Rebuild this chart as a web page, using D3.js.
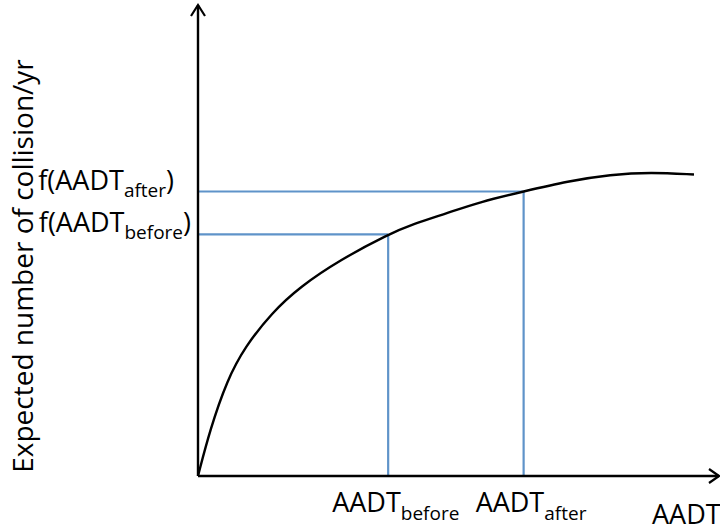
<!DOCTYPE html>
<html>
<head>
<meta charset="utf-8">
<script src="https://cdn.jsdelivr.net/npm/d3@7"></script>
<style>
  html, body { margin: 0; padding: 0; background: #fff; }
  svg { display: block; }
  text { font-family: "Open Sans", sans-serif; fill: #000; }
</style>
</head>
<body>
<svg id="chart" width="720" height="527"></svg>
<script>
// ---- data (abstract units) ----
const curveX = [0, 2.3, 5.6, 9.0, 14.2, 19.6, 27.3, 36.5, 41.3, 47.8, 54.1, 62.5, 71.0, 79.2, 86.9, 95.2];
const curveY = [0, 9.8, 20.4, 27.4, 34.7, 40.2, 45.9, 51.3, 53.5, 55.8, 58.2, 60.4, 62.6, 64.0, 64.5, 64.0];
const markerX = [36.5, 62.5];
const markerF = [51.3, 60.4];
const markerXLabels = [["AADT", "before"], ["AADT", "after"]];
const markerYLabels = [["f(AADT", "before", ")"], ["f(AADT", "after", ")"]];
const xTitle = "AADT";
const yTitle = "Expected number of collision/yr";

const svg = d3.select("#chart");
const x = d3.scaleLinear().domain([0, 100]).range([198, 719]);
const y = d3.scaleLinear().domain([0, 100]).range([476, 5]);

const blue = "#5f93c9";

// guide lines
markerX.forEach((mx, i) => {
  svg.append("line")
    .attr("x1", x(0)).attr("x2", x(mx))
    .attr("y1", y(markerF[i])).attr("y2", y(markerF[i]))
    .attr("stroke", blue).attr("stroke-width", 2.2);
  svg.append("line")
    .attr("x1", x(mx)).attr("x2", x(mx))
    .attr("y1", y(markerF[i])).attr("y2", y(0))
    .attr("stroke", blue).attr("stroke-width", 2.2);
});

// curve
const pts = curveX.map((v, i) => [v, curveY[i]]);
svg.append("path")
  .datum(pts)
  .attr("d", d3.line().x(d => x(d[0])).y(d => y(d[1])).curve(d3.curveBasis))
  .attr("fill", "none").attr("stroke", "#000").attr("stroke-width", 2.4);

// axes
svg.append("line").attr("x1", x(0)).attr("x2", x(0)).attr("y1", y(0)).attr("y2", y(100))
  .attr("stroke", "#000").attr("stroke-width", 2.4);
svg.append("line").attr("x1", x(0)).attr("x2", x(100)).attr("y1", y(0)).attr("y2", y(0))
  .attr("stroke", "#000").attr("stroke-width", 2.4);
// arrow heads (open chevrons)
svg.append("path")
  .attr("d", `M${x(0)-7},${y(100)+11} L${x(0)},${y(100)} L${x(0)+7},${y(100)+11}`)
  .attr("fill", "none").attr("stroke", "#000").attr("stroke-width", 2.2);
svg.append("path")
  .attr("d", `M${x(100)-10},${y(0)-7} L${x(100)},${y(0)} L${x(100)-10},${y(0)+7}`)
  .attr("fill", "none").attr("stroke", "#000").attr("stroke-width", 2.2);

// x marker labels
markerX.forEach((mx, i) => {
  const t = svg.append("text")
    .attr("x", x(mx) - 56 + (i === 1 ? 8 : 0))
    .attr("y", 512)
    .attr("font-size", 27);
  t.append("tspan").text(markerXLabels[i][0]);
  t.append("tspan").attr("dy", 8).attr("font-size", 19).text(markerXLabels[i][1]);
});

// y marker labels (right-aligned to the axis)
markerF.forEach((fv, i) => {
  const t = svg.append("text")
    .attr("x", i === 0 ? 191 : 174)
    .attr("y", y(fv) - 2)
    .attr("text-anchor", "end")
    .attr("font-size", 27);
  t.append("tspan").text(markerYLabels[i][0]);
  t.append("tspan").attr("dy", 7).attr("font-size", 19).text(markerYLabels[i][1]);
  t.append("tspan").attr("dy", -7).text(markerYLabels[i][2]);
});

// axis titles
svg.append("text").attr("x", 652).attr("y", 524).attr("font-size", 27).text(xTitle);
svg.append("text")
  .attr("transform", "translate(33,266) rotate(-90)")
  .attr("text-anchor", "middle")
  .attr("font-size", 28)
  .text(yTitle);
</script>
</body>
</html>
